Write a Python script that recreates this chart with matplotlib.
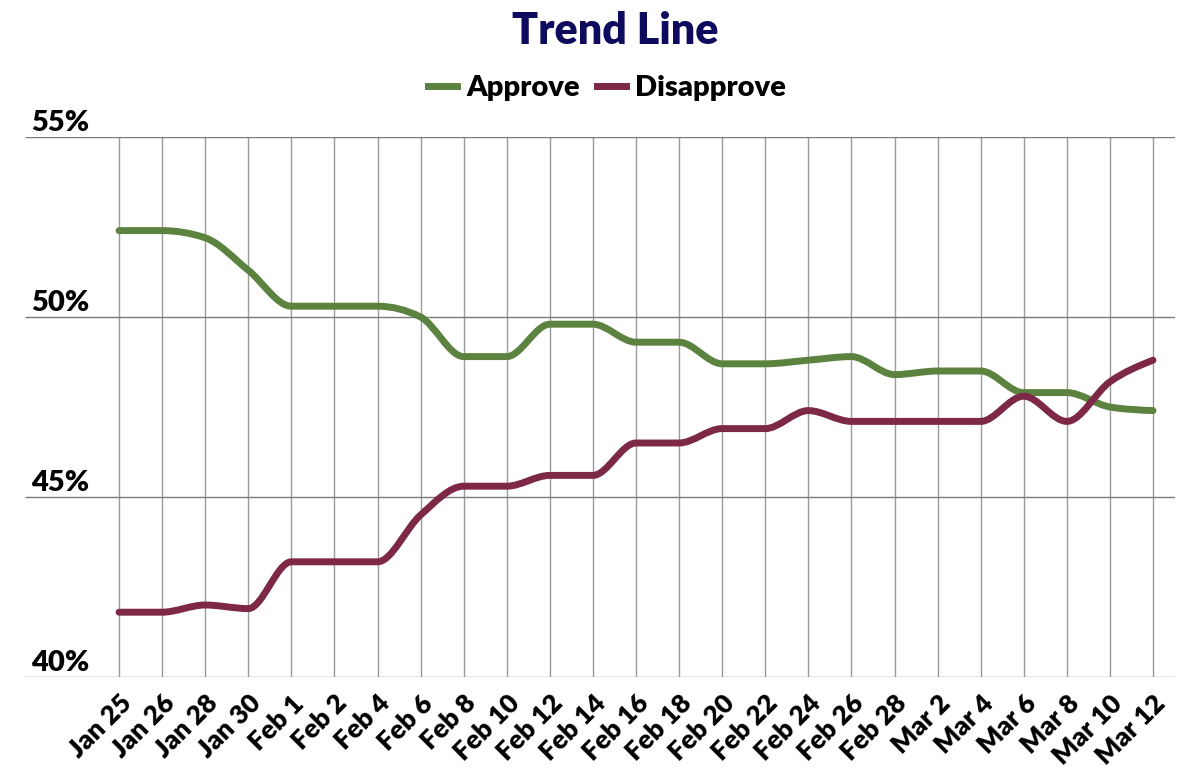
import numpy as np
import matplotlib
matplotlib.use("Agg")
import matplotlib.pyplot as plt
from matplotlib.path import Path
from matplotlib.patches import PathPatch
from matplotlib.lines import Line2D
from matplotlib.transforms import blended_transform_factory

dates = ["Jan 25", "Jan 26", "Jan 28", "Jan 30", "Feb 1", "Feb 2", "Feb 4", "Feb 6",
         "Feb 8", "Feb 10", "Feb 12", "Feb 14", "Feb 16", "Feb 18", "Feb 20", "Feb 22",
         "Feb 24", "Feb 26", "Feb 28", "Mar 2", "Mar 4", "Mar 6", "Mar 8", "Mar 10", "Mar 12"]
approve = [52.4, 52.4, 52.2, 51.3, 50.3, 50.3, 50.3, 50.0, 48.9, 48.9, 49.8, 49.8, 49.3,
           49.3, 48.7, 48.7, 48.8, 48.9, 48.4, 48.5, 48.5, 47.9, 47.9, 47.5, 47.4]
disapprove = [41.8, 41.8, 42.0, 41.9, 43.2, 43.2, 43.2, 44.5, 45.3, 45.3, 45.6, 45.6, 46.5,
              46.5, 46.9, 46.9, 47.4, 47.1, 47.1, 47.1, 47.1, 47.8, 47.1, 48.2, 48.8]
y_ticks = [40, 45, 50, 55]

GREEN = "#5b833f"
MAROON = "#7e2848"
NAVY = "#0e0b5e"
FONT = "Lato"


def monotone_path(x, y):
    # bezier-kurva som håller platta segment platta (som d3 monotoneX)
    x = np.asarray(x, float)
    y = np.asarray(y, float)
    n = len(x)
    h = np.diff(x)
    s = np.diff(y) / h
    t = np.zeros(n)
    for i in range(1, n - 1):
        p = (s[i - 1] * h[i] + s[i] * h[i - 1]) / (h[i - 1] + h[i])
        t[i] = (np.sign(s[i - 1]) + np.sign(s[i])) * min(abs(s[i - 1]), abs(s[i]), 0.5 * abs(p))
    t[0] = (3 * s[0] - t[1]) / 2 if n > 2 else s[0]
    t[-1] = (3 * s[-1] - t[-2]) / 2 if n > 2 else s[-1]
    verts = [(x[0], y[0])]
    codes = [Path.MOVETO]
    for i in range(n - 1):
        dx = h[i] / 3
        verts += [(x[i] + dx, y[i] + dx * t[i]),
                  (x[i + 1] - dx, y[i + 1] - dx * t[i + 1]),
                  (x[i + 1], y[i + 1])]
        codes += [Path.CURVE4] * 3
    return Path(verts, codes)


fig = plt.figure(figsize=(12, 7.77), dpi=100)
ax = fig.add_axes([25 / 1200, 1 - 677 / 777, 1150 / 1200, 540 / 777])

xs = np.arange(len(dates))
for vals, col in [(approve, GREEN), (disapprove, MAROON)]:
    ax.add_patch(PathPatch(monotone_path(xs, vals), fill=False, edgecolor=col,
                           linewidth=5, capstyle="round", joinstyle="round", zorder=3))

ax.set_xlim(-94 / 43.08, len(dates) - 1 + 22 / 43.08)
ax.set_ylim(40, 55)

ax.vlines(xs, 40, 55, color="#9a9a9a", linewidth=1, zorder=1)
ax.hlines(y_ticks, *ax.get_xlim(), color="#7a7a7a", linewidth=1, zorder=1)

for sp in ax.spines.values():
    sp.set_visible(False)
ax.set_yticks([])
ax.set_xticks(xs)
ax.set_xticklabels(dates, rotation=45, ha="right", rotation_mode="anchor",
                   fontsize=19, fontweight="heavy", family=FONT)
ax.tick_params(axis="x", length=0, pad=10)

tr = blended_transform_factory(ax.transAxes, ax.transData)
for v in y_ticks:
    ax.text(0.005, v + 0.03, f"{v}%", transform=tr, ha="left", va="bottom",
            fontsize=21, fontweight="heavy", family=FONT)

fig.text(615 / 1200, 1 - 31 / 777, "Trend Line", ha="center", va="center",
         fontsize=31, fontweight="heavy", color=NAVY, family=FONT)

handles = [Line2D([], [], color=GREEN, linewidth=5),
           Line2D([], [], color=MAROON, linewidth=5)]
fig.legend(handles, ["Approve", "Disapprove"], loc="center",
           bbox_to_anchor=(607 / 1200, 1 - 88 / 777), ncol=2, frameon=False,
           prop={"family": FONT, "weight": "heavy", "size": 21},
           handlelength=1.0, handletextpad=0.3, columnspacing=0.6)

fig.savefig("out.png", dpi=100)
